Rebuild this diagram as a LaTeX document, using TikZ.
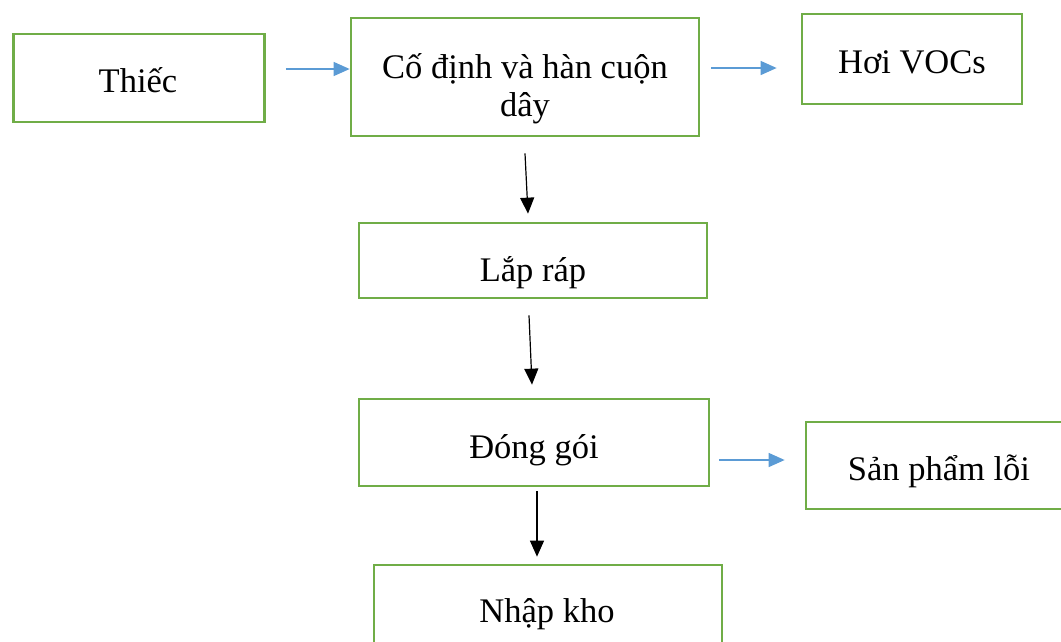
\documentclass[tikz,border=0pt]{standalone}
\usepackage{fontspec}
\setmainfont{Liberation Serif}
\usetikzlibrary{arrows.meta,calc}
\definecolor{boxgreen}{HTML}{70AD47}
\definecolor{flowblue}{HTML}{5B9BD5}
\begin{document}
\begin{tikzpicture}[x=1pt,y=-1pt,
  stepbox/.style={draw=boxgreen,line width=2.7pt,inner sep=0pt,rectangle},
  lbl/.style={inner sep=0pt,anchor=base,font=\fontsize{34.5}{38}\selectfont},
  barrow/.style={draw=flowblue,line width=1.4pt,-{Triangle[length=16pt,width=14pt]},color=flowblue},
  karrow/.style={draw=black,line width=1.2pt,-{Triangle[length=16pt,width=14pt]}}]
\useasboundingbox (0,0) rectangle (1061,641);

% boxes
\node[stepbox,minimum width=251pt,minimum height=88pt] (thiec) at (139,78) {};
\node[stepbox,minimum width=348pt,minimum height=118pt] (codinh) at (525,77) {};
\node[stepbox,minimum width=220pt,minimum height=90pt] (voc) at (912,59) {};
\node[stepbox,minimum width=348pt,minimum height=75pt] (laprap) at (533,260.5) {};
\node[stepbox,minimum width=350pt,minimum height=87pt] (donggoi) at (534,442.5) {};
\node[stepbox,minimum width=300pt,minimum height=87pt] (loi) at (956,465.5) {};
\node[stepbox,minimum width=348pt,minimum height=88pt] (nhapkho) at (548,609) {};

% texts
\node[lbl] (tthiec) at (138,92) {Thiếc};
\node[lbl] (tcodinh) at (525,78) {\setlength{\tabcolsep}{0pt}\begin{tabular}[t]{c}Cố định và hàn cuộn\\dây\end{tabular}};
\node[lbl] (tvoc) at (912,73) {Hơi VOCs};
\node[lbl] (tlaprap) at (533,281) {Lắp ráp};
\node[lbl] (tdonggoi) at (534,458) {Đóng gói};
\node[lbl] (tloi) at (939,480) {Sản phẩm lỗi};
\node[lbl] (tnhapkho) at (547,622) {Nhập kho};

% side flows
\draw[barrow] ($(thiec.east)+(20,-9)$) coordinate (a1) -- (a1 -| codinh.west);
\draw[barrow,shorten >=24pt] ($(codinh.east)+(11,-9)$) coordinate (a2) -- (a2 -| voc.west);
\draw[barrow,shorten >=20pt] ($(donggoi.east)+(9,17.5)$) coordinate (a3) -- (a3 -| loi.west);

% main flow
\draw[karrow] ($(codinh.south)+(0,16)$) -- ($(laprap.north)+(-5,-8)$);
\draw[karrow] ($(laprap.south)+(-4,16)$) -- ($(donggoi.north)+(-2,-13)$);
\draw[karrow] ($(donggoi.south)+(3,4)$) -- ($(nhapkho.north)+(-11,-7)$);
\end{tikzpicture}
\end{document}
